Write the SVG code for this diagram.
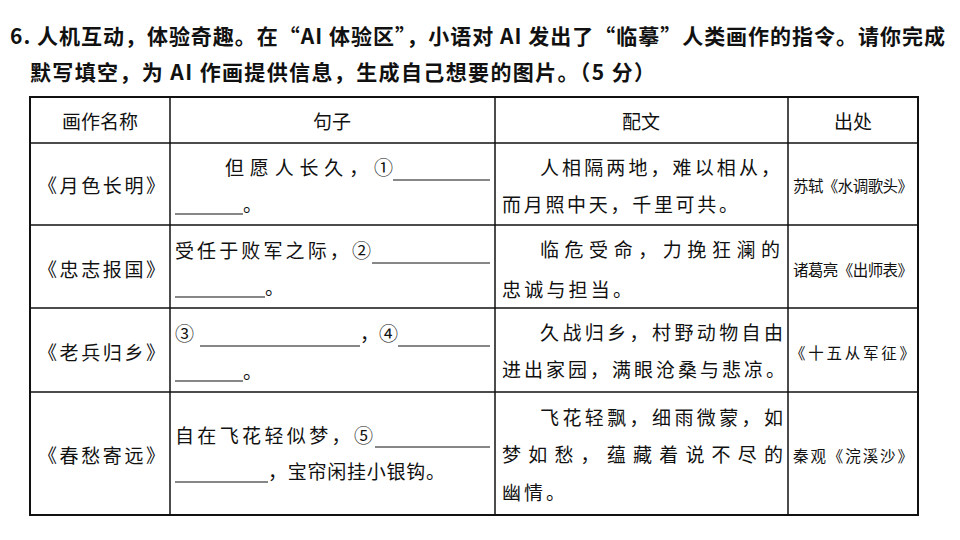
<svg xmlns="http://www.w3.org/2000/svg" width="960" height="540" viewBox="0 0 960 540">
<style>
text{font-family:"Noto Sans CJK SC","Noto Sans",sans-serif;fill:#111;font-size:19px}
.t{font-size:21px;font-weight:bold}
.c{text-anchor:middle}
.s{font-size:15.5px}
.g line{stroke:#111;stroke-width:1.5}
.u{stroke:#111;stroke-width:1.2}
</style>
<rect width="960" height="540" fill="#fff"/>
<text class="t" x="10" y="44" textLength="935" lengthAdjust="spacing">6. 人机互动，体验奇趣。在“AI 体验区”，小语对 AI 发出了“临摹”人类画作的指令。请你完成</text>
<text class="t" x="30" y="80" textLength="625" lengthAdjust="spacing">默写填空，为 AI 作画提供信息，生成自己想要的图片。（5 分）</text>
<g class="g" id="table">
<rect x="30" y="97" width="888" height="418" fill="none" stroke="#111" stroke-width="2"/>
<line x1="170" y1="97" x2="170" y2="515"/>
<line x1="495" y1="97" x2="495" y2="515"/>
<line x1="788" y1="97" x2="788" y2="515"/>
<line x1="30" y1="143" x2="918" y2="143"/>
<line x1="30" y1="225" x2="918" y2="225"/>
<line x1="30" y1="308" x2="918" y2="308"/>
<line x1="30" y1="392" x2="918" y2="392"/>
</g>
<g id="header">
<text class="c" x="100" y="129">画作名称</text>
<text class="c" x="332" y="129">句子</text>
<text class="c" x="641" y="129">配文</text>
<text class="c" x="853" y="129">出处</text>
</g>
<g id="col1">
<text x="38" y="193" textLength="127" lengthAdjust="spacing">《月色长明》</text>
<text x="38" y="277" textLength="127" lengthAdjust="spacing">《忠志报国》</text>
<text x="38" y="360" textLength="127" lengthAdjust="spacing">《老兵归乡》</text>
<text x="38" y="463" textLength="127" lengthAdjust="spacing">《春愁寄远》</text>
</g>
<g id="col2">
<text x="225" y="175" textLength="168" lengthAdjust="spacing">但愿人长久，①</text>
<line class="u" x1="393" y1="180" x2="490" y2="180"/>
<line class="u" x1="175" y1="214" x2="243" y2="214"/>
<text x="243" y="212">。</text>
<text x="175" y="258" textLength="196" lengthAdjust="spacing">受任于败军之际，②</text>
<line class="u" x1="372" y1="263" x2="490" y2="263"/>
<line class="u" x1="175" y1="297" x2="265" y2="297"/>
<text x="265" y="295">。</text>
<text x="175" y="341">③</text>
<line class="u" x1="200" y1="346" x2="360" y2="346"/>
<text x="360" y="341">，④</text>
<line class="u" x1="398" y1="346" x2="490" y2="346"/>
<line class="u" x1="175" y1="381" x2="243" y2="381"/>
<text x="243" y="379">。</text>
<text x="175" y="443" textLength="198" lengthAdjust="spacing">自在飞花轻似梦，⑤</text>
<line class="u" x1="375" y1="447" x2="490" y2="447"/>
<line class="u" x1="175" y1="482" x2="268" y2="482"/>
<text x="268" y="479" textLength="177" lengthAdjust="spacing">，宝帘闲挂小银钩。</text>
</g>
<g id="col3">
<text x="540" y="175" textLength="240" lengthAdjust="spacing">人相隔两地，难以相从，</text>
<text x="502" y="212" textLength="236" lengthAdjust="spacing">而月照中天，千里可共。</text>
<text x="540" y="257" textLength="240" lengthAdjust="spacing">临危受命，力挽狂澜的</text>
<text x="502" y="297" textLength="130" lengthAdjust="spacing">忠诚与担当。</text>
<text x="540" y="340" textLength="243" lengthAdjust="spacing">久战归乡，村野动物自由</text>
<text x="502" y="377" textLength="283" lengthAdjust="spacing">进出家园，满眼沧桑与悲凉。</text>
<text x="540" y="425" textLength="243" lengthAdjust="spacing">飞花轻飘，细雨微蒙，如</text>
<text x="502" y="462" textLength="281" lengthAdjust="spacing">梦如愁，蕴藏着说不尽的</text>
<text x="502" y="500" textLength="63" lengthAdjust="spacing">幽情。</text>
</g>
<g id="col4">
<text class="s" x="793" y="192" textLength="120" lengthAdjust="spacing">苏轼《水调歌头》</text>
<text class="s" x="793" y="276" textLength="120" lengthAdjust="spacing">诸葛亮《出师表》</text>
<text class="s" x="790" y="359" textLength="125" lengthAdjust="spacing">《十五从军征》</text>
<text class="s" x="793" y="462" textLength="120" lengthAdjust="spacing">秦观《浣溪沙》</text>
</g>
</svg>
